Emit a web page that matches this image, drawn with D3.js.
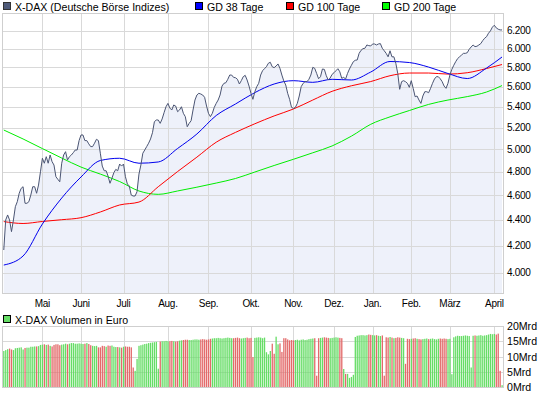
<!DOCTYPE html>
<html><head><meta charset="utf-8">
<script src="https://cdn.jsdelivr.net/npm/d3@7"></script>
<style>
html,body{margin:0;padding:0;background:#fff;}
svg{display:block;}
text{font-family:"Liberation Sans",Arial,sans-serif;fill:#000;}
</style></head>
<body>
<svg id="c" width="545" height="395"></svg>
<script>
// ---- data ----
const closes = [
4167,4400,4440,4400,4308,4400,4507,4548,4618,4659,
4673,4535,4535,4548,4603,4673,4673,4618,4687,4801,
4920,4876,4934,4876,4949,4890,4860,4758,4736,4715,
4876,4949,4979,4905,4934,4949,4970,4994,4994,5080,
5132,5132,5080,5080,5050,5025,5025,5056,5092,5080,
4965,4851,4810,4810,4764,4702,4745,4793,4822,4810,
4869,4851,4869,4758,4696,4679,4603,4595,4595,4631,
4781,4860,4965,4994,5025,5056,5095,5153,5257,5273,
5273,5241,5283,5343,5401,5434,5388,5369,5418,5408,
5353,5369,5401,5337,5305,5209,5241,5266,5369,5467,
5517,5534,5527,5517,5494,5408,5337,5305,5337,5395,
5434,5467,5517,5607,5635,5641,5676,5720,5720,5696,
5692,5676,5628,5662,5703,5717,5669,5607,5534,5474,
5550,5601,5635,5720,5765,5786,5807,5843,5854,5807,
5797,5814,5836,5790,5720,5659,5618,5534,5474,5395,
5385,5395,5434,5507,5601,5635,5652,5652,5676,5720,
5800,5790,5737,5682,5703,5783,5779,5713,5669,5689,
5727,5744,5765,5786,5754,5686,5696,5679,5737,5783,
5822,5860,5875,5878,5949,5982,6000,6004,6040,6033,
6029,6051,6051,6040,6051,6055,6004,5977,5949,5912,
5977,5912,5912,5843,5737,5574,5652,5662,5652,5635,
5594,5662,5584,5500,5507,5467,5434,5507,5550,5550,
5540,5584,5635,5679,5703,5703,5682,5652,5607,5584,
5635,5720,5779,5822,5860,5893,5912,5930,5949,5949,
5956,5993,6018,6040,6022,6026,6040,6055,6088,6114,
6132,6170,6196,6238,6260,6230,6215,6207,6207
];
const volumes = [
11.8,12.1,12.4,12.6,12.3,12.1,12.7,12.8,12.9,13.0,
12.3,12.8,12.9,12.9,13.2,13.2,13.3,13.3,13.4,13.8,
13.9,14.0,13.8,13.9,13.5,13.3,13.8,14.0,14.0,13.7,
13.9,14.0,14.2,14.0,14.2,14.4,14.4,14.2,14.2,14.3,
14.2,14.1,14.2,14.4,14.1,13.7,13.5,13.4,13.5,13.0,
13.0,13.5,13.4,13.2,13.6,13.5,13.6,13.2,13.1,13.1,
13.0,12.9,13.2,13.3,13.2,13.2,13.0,6.4,5.3,9.2,
13.5,13.7,13.9,14.1,14.2,14.4,14.5,14.6,14.7,14.8,
6.0,14.9,15.0,15.0,15.1,15.0,15.0,15.1,15.0,14.9,
15.0,15.2,15.3,15.4,15.5,15.5,15.4,15.4,15.5,15.6,
15.6,15.5,15.6,15.7,15.6,15.5,15.6,15.8,15.9,16.0,
16.0,16.1,16.0,15.9,16.0,16.1,16.2,16.1,16.0,16.0,
16.1,16.2,16.0,15.9,16.0,16.1,16.2,16.0,16.1,9.8,
16.1,16.2,16.3,16.2,16.0,16.2,11.4,10.7,11.8,14.2,
10.9,16.5,14.0,14.3,11.5,16.0,16.0,15.6,15.3,15.4,
15.3,15.4,15.5,15.3,15.5,15.6,15.4,15.5,15.7,15.8,
15.9,16.0,3.7,16.0,16.1,16.2,16.3,16.2,16.1,16.0,
16.1,16.2,16.3,16.2,16.1,16.0,5.9,4.3,4.3,3.0,
3.3,4.0,16.4,16.8,16.9,17.0,17.0,16.9,17.0,17.2,
17.1,17.0,16.9,17.0,16.8,16.7,16.9,3.7,16.3,16.2,
16.4,16.2,16.0,16.1,16.3,16.2,16.1,16.0,7.6,15.8,
15.7,15.8,15.9,16.0,15.8,15.7,15.6,15.7,15.8,15.9,
15.7,15.8,15.9,15.7,15.6,15.8,15.9,15.8,15.9,15.8,
15.7,15.8,4.2,16.3,16.6,16.8,16.7,16.7,16.8,16.9,
16.8,16.7,6.4,16.8,16.9,16.8,16.9,17.0,16.8,16.9,
17.0,17.2,17.4,17.3,17.4,17.2,17.5,5.3,0.6
];
const maIdx = [0,10,20,30,40,50,60,70,80,90,100,110,120,130,140,150,160,170,180,190,200,210,220,230,240,250,258];
const gd38  = [4055,4122,4368,4578,4756,4900,4920,4876,4887,5008,5141,5316,5428,5541,5628,5662,5645,5676,5669,5751,5862,5851,5803,5736,5684,5793,5910];
const gd100 = [4387,4372,4388,4402,4418,4464,4521,4545,4673,4803,4930,5065,5156,5237,5312,5379,5467,5554,5610,5653,5713,5741,5741,5730,5744,5788,5830];
const gd200 = [5178,5095,5007,4922,4842,4781,4717,4637,4609,4637,4669,4704,4743,4799,4856,4911,4969,5031,5121,5232,5303,5364,5424,5467,5501,5547,5612];
const monthLabels = ["Mai","Juni","Juli","Aug.","Sep.","Okt.","Nov.","Dez.","Jan.","Feb.","März","April"];
const monthIdx = [20,40,62,85,106,128,150,171,191,211,231,254];
const priceTicks = [4000,4200,4400,4600,4800,5000,5200,5400,5600,5800,6000,6200];
const priceTickLabels = ["4.000","4.200","4.400","4.600","4.800","5.000","5.200","5.400","5.600","5.800","6.000","6.200"];
const volTicks = [0,5,10,15,20];
const volTickLabels = ["0Mrd","5Mrd","10Mrd","15Mrd","20Mrd"];
const legendLabels = ["X-DAX (Deutsche Börse Indizes)","GD 38 Tage","GD 100 Tage","GD 200 Tage"];
const volLegendLabel = "X-DAX Volumen in Euro";

// ---- layout ----
const svg = d3.select("#c");
const L = 2.5, R = 503.5, T = 13.5, B = 293.5, VT = 326.5, VB = 387.5;
const x = d3.scaleLinear().domain([-0.5, closes.length - 0.5]).range([2.8, 503]);
const y = d3.scaleLog().domain([3855, 6400]).range([293, 13]);
const yv = d3.scaleLinear().domain([0, 20]).range([387, 326]);
const gridC = "#d9d9d9";

// main panel
svg.append("rect").attr("x",L).attr("y",T).attr("width",R-L).attr("height",B-T).attr("fill","#fff");
const idx = d3.range(closes.length);
svg.append("path").datum(idx)
  .attr("d", d3.area().x(i=>x(i)).y0(B).y1(i=>y(closes[i])))
  .attr("fill","#eef1fa");
svg.append("g").selectAll("line").data(priceTicks).join("line")
  .attr("x1",L).attr("x2",R).attr("y1",d=>Math.round(y(d))+0.5).attr("y2",d=>Math.round(y(d))+0.5)
  .attr("stroke",gridC);
svg.append("g").selectAll("line").data(monthIdx).join("line")
  .attr("x1",d=>Math.round(x(d))+0.5).attr("x2",d=>Math.round(x(d))+0.5).attr("y1",T).attr("y2",B)
  .attr("stroke",gridC);
svg.append("rect").attr("x",L).attr("y",T).attr("width",R-L).attr("height",B-T).attr("fill","none").attr("stroke","#cfcfcf");

const maLine = arr => d3.line().curve(d3.curveMonotoneX).x((d,k)=>x(maIdx[k])).y(d=>y(d))(arr);
svg.append("path").attr("d",maLine(gd200)).attr("fill","none").attr("stroke","#00ee00").attr("stroke-width",1);
svg.append("path").attr("d",maLine(gd100)).attr("fill","none").attr("stroke","#ff0000").attr("stroke-width",1);
svg.append("path").attr("d",maLine(gd38)).attr("fill","none").attr("stroke","#0000ee").attr("stroke-width",1);
svg.append("path").datum(idx)
  .attr("d", d3.line().x(i=>x(i)).y(i=>y(closes[i])))
  .attr("fill","none").attr("stroke","#4b5573").attr("stroke-width",1);

// right axis
svg.append("g").selectAll("text").data(priceTicks).join("text")
  .attr("x",507).attr("y",d=>y(d)+3.5).attr("font-size",10).attr("letter-spacing",-0.3).text((d,k)=>priceTickLabels[k]);

// month labels
svg.append("g").selectAll("text").data(monthIdx).join("text")
  .attr("x",d=>x(d)).attr("y",307).attr("text-anchor","middle").attr("font-size",10).attr("letter-spacing",-0.3)
  .text((d,k)=>monthLabels[k]);

// legend
const legColors = [["#4f5b7a","#333"],["#0000ff","#000"],["#ff0000","#000"],["#00ff00","#000"]];
const legX = [3,195,286,382];
legendLabels.forEach((t,k)=>{
  svg.append("rect").attr("x",legX[k]+0.5).attr("y",2.5).attr("width",7).attr("height",7)
    .attr("fill",legColors[k][0]).attr("stroke",legColors[k][1]);
  svg.append("text").attr("x",legX[k]+12).attr("y",10.5).attr("font-size",10.6).text(t);
});

// volume panel
svg.append("rect").attr("x",3.5).attr("y",315.5).attr("width",7).attr("height",7).attr("fill","#66dd66").attr("stroke","#000");
svg.append("text").attr("x",15).attr("y",323.5).attr("font-size",10.6).text(volLegendLabel);
svg.append("g").selectAll("line").data(volTicks.filter(v=>v>0&&v<20)).join("line")
  .attr("x1",L).attr("x2",R).attr("y1",d=>Math.round(yv(d))+0.5).attr("y2",d=>Math.round(yv(d))+0.5).attr("stroke",gridC);
svg.append("g").selectAll("line").data(monthIdx).join("line")
  .attr("x1",d=>Math.round(x(d))+0.5).attr("x2",d=>Math.round(x(d))+0.5).attr("y1",VT).attr("y2",VB).attr("stroke",gridC);
svg.append("rect").attr("x",L).attr("y",VT).attr("width",R-L).attr("height",VB-VT).attr("fill","none").attr("stroke","#cfcfcf");
svg.append("g").selectAll("rect").data(idx).join("rect")
  .attr("x",i=>x(i)-0.6).attr("width",1.3)
  .attr("y",i=>yv(volumes[i])).attr("height",i=>yv(0)-yv(volumes[i]))
  .attr("fill",i=> (i>0 && closes[i]<closes[i-1]) ? "#e36a6a" : "#66dd66");
svg.append("g").selectAll("text").data(volTicks).join("text")
  .attr("x",507).attr("y",d=>yv(d)+4).attr("font-size",10.6).text((d,k)=>volTickLabels[k]);
</script>
</body></html>
